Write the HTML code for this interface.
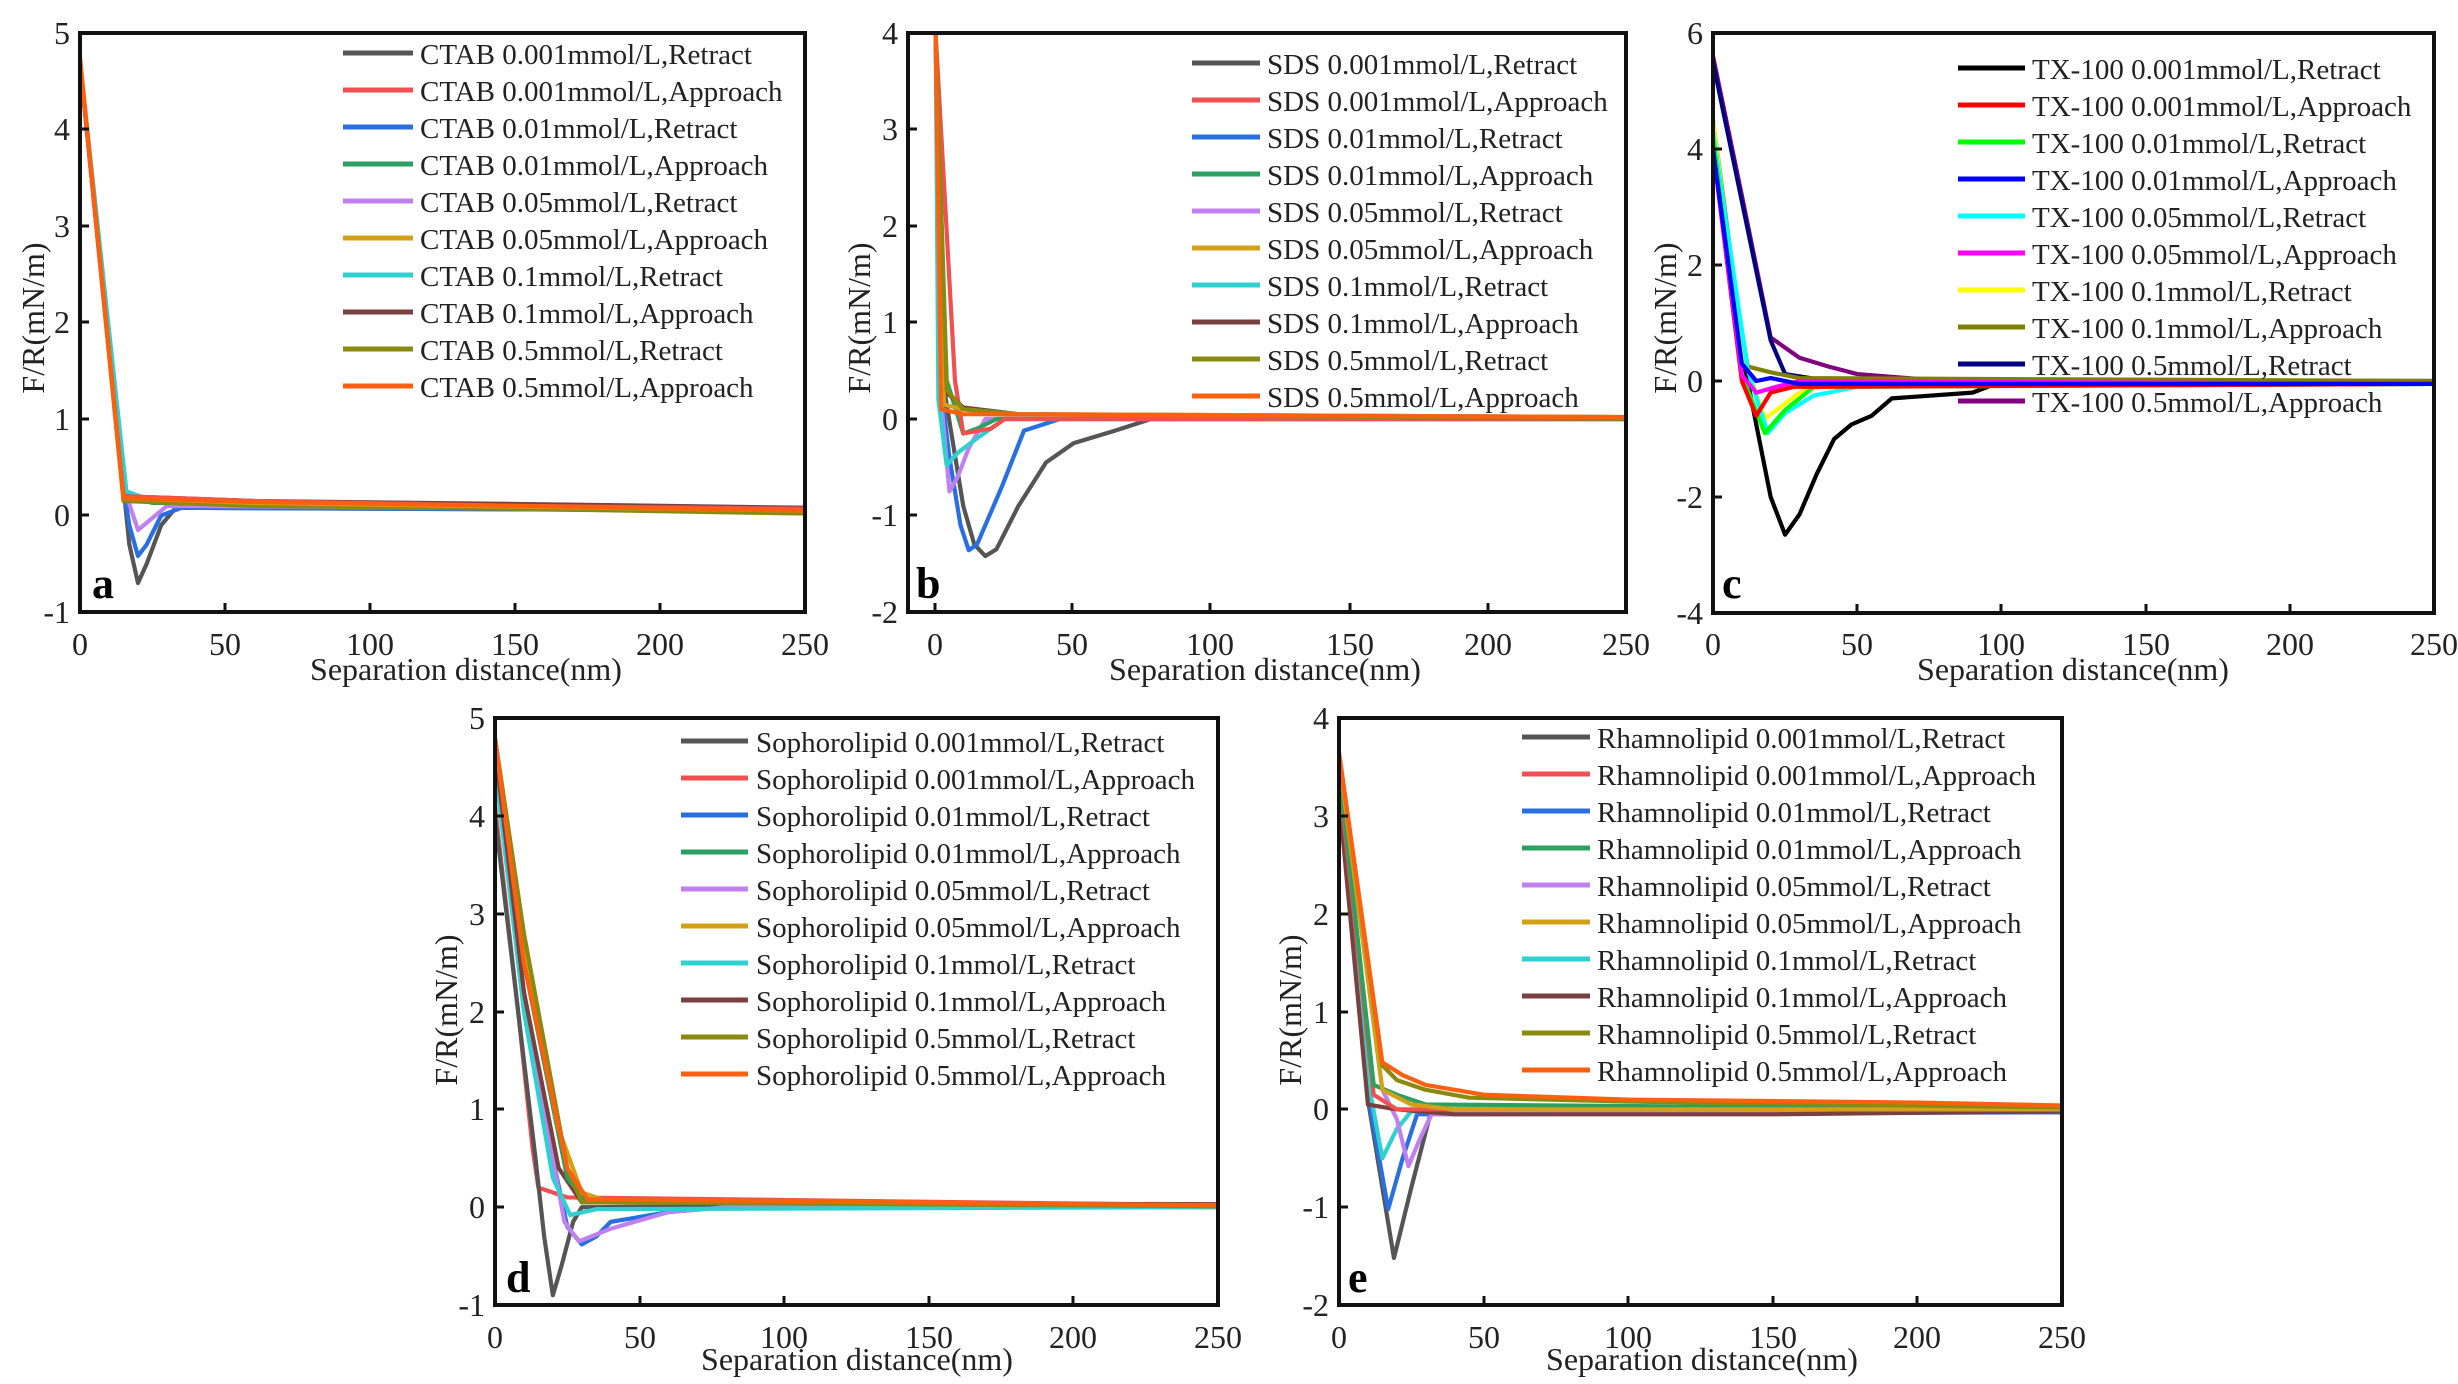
<!DOCTYPE html>
<html><head><meta charset="utf-8"><style>
html,body{margin:0;padding:0;background:#fff}
svg{display:block}
text{font-family:"Liberation Serif",serif;fill:#222}
.tk{font-size:32px}
.lg{font-size:29px}
.ti{font-size:32px}
.pl{font-size:44px;font-weight:bold;fill:#000}
.c path,.c polyline{fill:none;stroke-width:4.2;vector-effect:non-scaling-stroke;stroke-linejoin:round}
</style></head><body>
<svg width="2458" height="1384" viewBox="0 0 2458 1384" xmlns="http://www.w3.org/2000/svg">
<defs>
<clipPath id="ca"><rect x="80" y="33" width="725" height="579"/></clipPath>
<clipPath id="cb"><rect x="908" y="33" width="718" height="579"/></clipPath>
<clipPath id="cc"><rect x="1713" y="33" width="721" height="580"/></clipPath>
<clipPath id="cd"><rect x="495" y="718" width="723" height="587"/></clipPath>
<clipPath id="ce"><rect x="1339" y="718" width="723" height="587"/></clipPath>
</defs>

<!-- ===== Panel a ===== -->
<g clip-path="url(#ca)"><g class="c" transform="translate(80,612) scale(2.9,-96.5) translate(0,1)">
<polyline stroke="#555" points="0,4.7 14,0.6 17,-0.3 20,-0.7 23,-0.5 28,-0.1 33,0.08 250,0.05"/>
<polyline stroke="#2a6fe0" points="0,4.7 14,0.5 17,-0.1 20,-0.42 23,-0.3 28,0 35,0.08 250,0.05"/>
<polyline stroke="#c080f0" points="0,4.7 15,0.3 20,-0.15 24,-0.05 30,0.1 250,0.05"/>
<polyline stroke="#2ca060" points="0,4.7 15,0.22 25,0.13 100,0.1 250,0.04"/>
<polyline stroke="#30d0d0" points="0,4.7 16,0.25 25,0.15 100,0.12 250,0.05"/>
<polyline stroke="#8a8a10" points="0,4.7 15,0.15 60,0.1 150,0.07 250,0.02"/>
<polyline stroke="#7a4040" points="0,4.7 15,0.2 60,0.15 150,0.12 250,0.08"/>
<polyline stroke="#d4a017" points="0,4.7 15,0.18 60,0.13 250,0.05"/>
<polyline stroke="#f05050" points="0,4.7 15,0.2 60,0.15 150,0.1 250,0.07"/>
<polyline stroke="#ff6010" points="0,4.75 15,0.18 60,0.14 150,0.1 250,0.05"/>
</g></g>
<rect x="80" y="33" width="725" height="579" fill="none" stroke="#111" stroke-width="4"/>
<g stroke="#111" stroke-width="3">
<line x1="225" y1="612" x2="225" y2="603"/><line x1="370" y1="612" x2="370" y2="603"/><line x1="515" y1="612" x2="515" y2="603"/><line x1="660" y1="612" x2="660" y2="603"/>
<line x1="80" y1="515" x2="89" y2="515"/><line x1="80" y1="419" x2="89" y2="419"/><line x1="80" y1="322" x2="89" y2="322"/><line x1="80" y1="226" x2="89" y2="226"/><line x1="80" y1="129" x2="89" y2="129"/>
</g>
<g class="tk" text-anchor="end"><text x="70" y="623">-1</text><text x="70" y="526">0</text><text x="70" y="430">1</text><text x="70" y="333">2</text><text x="70" y="237">3</text><text x="70" y="140">4</text><text x="70" y="44">5</text></g>
<g class="tk" text-anchor="middle"><text x="80" y="655">0</text><text x="225" y="655">50</text><text x="370" y="655">100</text><text x="515" y="655">150</text><text x="660" y="655">200</text><text x="805" y="655">250</text></g>
<text class="ti" x="466" y="680" text-anchor="middle">Separation distance(nm)</text>
<text class="ti" transform="translate(44,318) rotate(-90)" text-anchor="middle">F/R(mN/m)</text>
<text class="pl" x="92" y="598">a</text>
<g stroke-width="5">
<line x1="343" y1="53" x2="413" y2="53" stroke="#555"/><line x1="343" y1="90" x2="413" y2="90" stroke="#f05050"/><line x1="343" y1="127" x2="413" y2="127" stroke="#2a6fe0"/><line x1="343" y1="164" x2="413" y2="164" stroke="#2ca060"/><line x1="343" y1="201" x2="413" y2="201" stroke="#c080f0"/><line x1="343" y1="238" x2="413" y2="238" stroke="#d4a017"/><line x1="343" y1="275" x2="413" y2="275" stroke="#30d0d0"/><line x1="343" y1="312" x2="413" y2="312" stroke="#7a4040"/><line x1="343" y1="349" x2="413" y2="349" stroke="#8a8a10"/><line x1="343" y1="386" x2="413" y2="386" stroke="#ff6010"/>
</g>
<g class="lg"><text x="420" y="64">CTAB 0.001mmol/L,Retract</text><text x="420" y="101">CTAB 0.001mmol/L,Approach</text><text x="420" y="138">CTAB 0.01mmol/L,Retract</text><text x="420" y="175">CTAB 0.01mmol/L,Approach</text><text x="420" y="212">CTAB 0.05mmol/L,Retract</text><text x="420" y="249">CTAB 0.05mmol/L,Approach</text><text x="420" y="286">CTAB 0.1mmol/L,Retract</text><text x="420" y="323">CTAB 0.1mmol/L,Approach</text><text x="420" y="360">CTAB 0.5mmol/L,Retract</text><text x="420" y="397">CTAB 0.5mmol/L,Approach</text></g>

<!-- ===== Panel b ===== -->
<g clip-path="url(#cb)"><g class="c" transform="translate(908,612) scale(2.762,-96.5) translate(10,2)">
<polyline stroke="#555" points="0,4 2,0.5 6,-0.2 10,-0.9 14,-1.3 18,-1.42 22,-1.35 30,-0.9 40,-0.45 50,-0.25 65,-0.12 78,0 250,0"/>
<polyline stroke="#2a6fe0" points="0,4 2,0.3 5,-0.4 9,-1.1 12,-1.36 15,-1.3 24,-0.7 32,-0.12 45,0 250,0"/>
<polyline stroke="#c080f0" points="0,4 2,0.2 5,-0.75 8,-0.6 12,-0.3 18,0 250,0"/>
<polyline stroke="#30d0d0" points="0,4 1,0.2 4,-0.48 8,-0.35 15,-0.2 25,0 250,0"/>
<polyline stroke="#2ca060" points="0,4 4,0.4 10,-0.15 15,-0.1 22,0 250,0"/>
<polyline stroke="#f05050" points="0,4 7,0.4 10,-0.15 20,-0.1 25,0 250,0"/>
<polyline stroke="#7a4040" points="0,4 3,0.3 10,0.12 30,0.05 250,0.02"/>
<polyline stroke="#d4a017" points="0,4 3,0.15 10,0.1 30,0.05 250,0.02"/>
<polyline stroke="#8a8a10" points="0,4 4,0.3 10,0.1 30,0.05 250,0"/>
<polyline stroke="#ff6010" points="0,4 2,0.1 10,0.05 250,0.02"/>
</g></g>
<rect x="908" y="33" width="718" height="579" fill="none" stroke="#111" stroke-width="4"/>
<g stroke="#111" stroke-width="3">
<line x1="1072" y1="612" x2="1072" y2="603"/><line x1="1210" y1="612" x2="1210" y2="603"/><line x1="1350" y1="612" x2="1350" y2="603"/><line x1="1488" y1="612" x2="1488" y2="603"/><line x1="935" y1="612" x2="935" y2="603"/>
<line x1="908" y1="515" x2="917" y2="515"/><line x1="908" y1="419" x2="917" y2="419"/><line x1="908" y1="322" x2="917" y2="322"/><line x1="908" y1="226" x2="917" y2="226"/><line x1="908" y1="129" x2="917" y2="129"/>
</g>
<g class="tk" text-anchor="end"><text x="898" y="623">-2</text><text x="898" y="526">-1</text><text x="898" y="430">0</text><text x="898" y="333">1</text><text x="898" y="237">2</text><text x="898" y="140">3</text><text x="898" y="44">4</text></g>
<g class="tk" text-anchor="middle"><text x="935" y="655">0</text><text x="1072" y="655">50</text><text x="1210" y="655">100</text><text x="1350" y="655">150</text><text x="1488" y="655">200</text><text x="1626" y="655">250</text></g>
<text class="ti" x="1265" y="680" text-anchor="middle">Separation distance(nm)</text>
<text class="ti" transform="translate(870,318) rotate(-90)" text-anchor="middle">F/R(mN/m)</text>
<text class="pl" x="916" y="598">b</text>
<g stroke-width="5">
<line x1="1192" y1="63" x2="1260" y2="63" stroke="#555"/><line x1="1192" y1="100" x2="1260" y2="100" stroke="#f05050"/><line x1="1192" y1="137" x2="1260" y2="137" stroke="#2a6fe0"/><line x1="1192" y1="174" x2="1260" y2="174" stroke="#2ca060"/><line x1="1192" y1="211" x2="1260" y2="211" stroke="#c080f0"/><line x1="1192" y1="248" x2="1260" y2="248" stroke="#d4a017"/><line x1="1192" y1="285" x2="1260" y2="285" stroke="#30d0d0"/><line x1="1192" y1="322" x2="1260" y2="322" stroke="#7a4040"/><line x1="1192" y1="359" x2="1260" y2="359" stroke="#8a8a10"/><line x1="1192" y1="396" x2="1260" y2="396" stroke="#ff6010"/>
</g>
<g class="lg"><text x="1267" y="74">SDS 0.001mmol/L,Retract</text><text x="1267" y="111">SDS 0.001mmol/L,Approach</text><text x="1267" y="148">SDS 0.01mmol/L,Retract</text><text x="1267" y="185">SDS 0.01mmol/L,Approach</text><text x="1267" y="222">SDS 0.05mmol/L,Retract</text><text x="1267" y="259">SDS 0.05mmol/L,Approach</text><text x="1267" y="296">SDS 0.1mmol/L,Retract</text><text x="1267" y="333">SDS 0.1mmol/L,Approach</text><text x="1267" y="370">SDS 0.5mmol/L,Retract</text><text x="1267" y="407">SDS 0.5mmol/L,Approach</text></g>

<!-- ===== Panel c ===== -->
<g clip-path="url(#cc)"><g class="c" transform="translate(1713,613) scale(2.884,-58) translate(0,4)">
<polyline stroke="#800080" points="0,5.6 10,3.2 20,0.75 30,0.4 40,0.25 50,0.12 80,0 250,0"/>
<polyline stroke="#000080" points="0,5.5 10,3.1 20,0.7 25,0.12 40,0 100,-0.05 250,-0.05"/>
<polyline stroke="#808000" points="0,4.5 8,1.5 12,0.25 20,0.15 30,0.05 250,0"/>
<polyline stroke="#000" points="0,4 8,1 12,0 16,-1 20,-2 25,-2.65 30,-2.3 36,-1.6 42,-1 48,-0.75 55,-0.6 62,-0.3 90,-0.2 98,-0.05 250,-0.05"/>
<polyline stroke="#ffff00" points="0,4.5 10,0.5 18,-0.65 22,-0.5 30,-0.2 40,-0.05 250,-0.05"/>
<polyline stroke="#00ffff" points="0,4.3 12,0.2 19,-0.9 25,-0.55 35,-0.25 50,-0.1 250,-0.05"/>
<polyline stroke="#00ff00" points="0,4.2 10,0.1 14,-0.4 18,-0.9 25,-0.5 35,-0.1 250,-0.05"/>
<polyline stroke="#ff0000" points="0,4 10,0 15,-0.6 20,-0.2 28,-0.1 35,-0.1 250,-0.05"/>
<polyline stroke="#ff00ff" points="0,4 10,0.1 15,-0.2 22,-0.1 30,0 250,-0.05"/>
<polyline stroke="#0000ff" points="0,4 10,0.3 15,0 20,0.05 30,-0.05 250,-0.05"/>
</g></g>
<rect x="1713" y="33" width="721" height="580" fill="none" stroke="#111" stroke-width="4"/>
<g stroke="#111" stroke-width="3">
<line x1="1857" y1="613" x2="1857" y2="604"/><line x1="2001" y1="613" x2="2001" y2="604"/><line x1="2146" y1="613" x2="2146" y2="604"/><line x1="2290" y1="613" x2="2290" y2="604"/>
<line x1="1713" y1="497" x2="1722" y2="497"/><line x1="1713" y1="381" x2="1722" y2="381"/><line x1="1713" y1="265" x2="1722" y2="265"/><line x1="1713" y1="149" x2="1722" y2="149"/>
</g>
<g class="tk" text-anchor="end"><text x="1703" y="624">-4</text><text x="1703" y="508">-2</text><text x="1703" y="392">0</text><text x="1703" y="276">2</text><text x="1703" y="160">4</text><text x="1703" y="44">6</text></g>
<g class="tk" text-anchor="middle"><text x="1713" y="655">0</text><text x="1857" y="655">50</text><text x="2001" y="655">100</text><text x="2146" y="655">150</text><text x="2290" y="655">200</text><text x="2434" y="655">250</text></g>
<text class="ti" x="2073" y="680" text-anchor="middle">Separation distance(nm)</text>
<text class="ti" transform="translate(1676,318) rotate(-90)" text-anchor="middle">F/R(mN/m)</text>
<text class="pl" x="1722" y="598">c</text>
<g stroke-width="5">
<line x1="1958" y1="68" x2="2025" y2="68" stroke="#000"/><line x1="1958" y1="105" x2="2025" y2="105" stroke="#ff0000"/><line x1="1958" y1="142" x2="2025" y2="142" stroke="#00ff00"/><line x1="1958" y1="179" x2="2025" y2="179" stroke="#0000ff"/><line x1="1958" y1="216" x2="2025" y2="216" stroke="#00ffff"/><line x1="1958" y1="253" x2="2025" y2="253" stroke="#ff00ff"/><line x1="1958" y1="290" x2="2025" y2="290" stroke="#ffff00"/><line x1="1958" y1="327" x2="2025" y2="327" stroke="#808000"/><line x1="1958" y1="364" x2="2025" y2="364" stroke="#000080"/><line x1="1958" y1="401" x2="2025" y2="401" stroke="#800080"/>
</g>
<g class="lg"><text x="2032" y="79">TX-100 0.001mmol/L,Retract</text><text x="2032" y="116">TX-100 0.001mmol/L,Approach</text><text x="2032" y="153">TX-100 0.01mmol/L,Retract</text><text x="2032" y="190">TX-100 0.01mmol/L,Approach</text><text x="2032" y="227">TX-100 0.05mmol/L,Retract</text><text x="2032" y="264">TX-100 0.05mmol/L,Approach</text><text x="2032" y="301">TX-100 0.1mmol/L,Retract</text><text x="2032" y="338">TX-100 0.1mmol/L,Approach</text><text x="2032" y="375">TX-100 0.5mmol/L,Retract</text><text x="2032" y="412">TX-100 0.5mmol/L,Approach</text></g>

<!-- ===== Panel d ===== -->
<g clip-path="url(#cd)"><g class="c" transform="translate(495,1305) scale(2.892,-97.8) translate(0,1)">
<polyline stroke="#f05050" points="0,4.1 8,2 13,0.6 15,0.2 25,0.1 250,0.02"/>
<polyline stroke="#555" points="0,4 8,2 14,0.5 17,-0.3 20,-0.9 23,-0.6 27,-0.15 30,0 250,0.02"/>
<polyline stroke="#2a6fe0" points="0,4.5 10,2.2 20,0.5 25,-0.2 30,-0.38 35,-0.3 40,-0.15 50,-0.1 60,-0.05 80,0 250,0"/>
<polyline stroke="#c080f0" points="0,4.5 10,2.2 20,0.5 24,-0.15 29,-0.35 40,-0.22 60,-0.05 80,0 250,0"/>
<polyline stroke="#30d0d0" points="0,4.5 10,2 20,0.3 26,-0.08 35,-0.02 250,0"/>
<polyline stroke="#7a4040" points="0,4.7 10,2.2 22,0.4 30,0.05 250,0.03"/>
<polyline stroke="#2ca060" points="0,4.8 10,2.5 25,0.3 32,0.05 250,0.02"/>
<polyline stroke="#d4a017" points="0,4.8 10,2.6 22,0.8 30,0.15 40,0.05 250,0.02"/>
<polyline stroke="#8a8a10" points="0,4.8 10,2.8 25,0.4 30,0.05 250,0.01"/>
<polyline stroke="#ff6010" points="0,4.8 10,2.5 25,0.4 32,0.08 250,0.02"/>
</g></g>
<rect x="495" y="718" width="723" height="587" fill="none" stroke="#111" stroke-width="4"/>
<g stroke="#111" stroke-width="3">
<line x1="640" y1="1305" x2="640" y2="1296"/><line x1="784" y1="1305" x2="784" y2="1296"/><line x1="929" y1="1305" x2="929" y2="1296"/><line x1="1073" y1="1305" x2="1073" y2="1296"/>
<line x1="495" y1="1207" x2="504" y2="1207"/><line x1="495" y1="1109" x2="504" y2="1109"/><line x1="495" y1="1012" x2="504" y2="1012"/><line x1="495" y1="914" x2="504" y2="914"/><line x1="495" y1="816" x2="504" y2="816"/>
</g>
<g class="tk" text-anchor="end"><text x="485" y="1316">-1</text><text x="485" y="1218">0</text><text x="485" y="1120">1</text><text x="485" y="1023">2</text><text x="485" y="925">3</text><text x="485" y="827">4</text><text x="485" y="729">5</text></g>
<g class="tk" text-anchor="middle"><text x="495" y="1348">0</text><text x="640" y="1348">50</text><text x="784" y="1348">100</text><text x="929" y="1348">150</text><text x="1073" y="1348">200</text><text x="1218" y="1348">250</text></g>
<text class="ti" x="857" y="1370" text-anchor="middle">Separation distance(nm)</text>
<text class="ti" transform="translate(457,1010) rotate(-90)" text-anchor="middle">F/R(mN/m)</text>
<text class="pl" x="506" y="1292">d</text>
<g stroke-width="5">
<line x1="681" y1="741" x2="748" y2="741" stroke="#555"/><line x1="681" y1="778" x2="748" y2="778" stroke="#f05050"/><line x1="681" y1="815" x2="748" y2="815" stroke="#2a6fe0"/><line x1="681" y1="852" x2="748" y2="852" stroke="#2ca060"/><line x1="681" y1="889" x2="748" y2="889" stroke="#c080f0"/><line x1="681" y1="926" x2="748" y2="926" stroke="#d4a017"/><line x1="681" y1="963" x2="748" y2="963" stroke="#30d0d0"/><line x1="681" y1="1000" x2="748" y2="1000" stroke="#7a4040"/><line x1="681" y1="1037" x2="748" y2="1037" stroke="#8a8a10"/><line x1="681" y1="1074" x2="748" y2="1074" stroke="#ff6010"/>
</g>
<g class="lg"><text x="756" y="752">Sophorolipid 0.001mmol/L,Retract</text><text x="756" y="789">Sophorolipid 0.001mmol/L,Approach</text><text x="756" y="826">Sophorolipid 0.01mmol/L,Retract</text><text x="756" y="863">Sophorolipid 0.01mmol/L,Approach</text><text x="756" y="900">Sophorolipid 0.05mmol/L,Retract</text><text x="756" y="937">Sophorolipid 0.05mmol/L,Approach</text><text x="756" y="974">Sophorolipid 0.1mmol/L,Retract</text><text x="756" y="1011">Sophorolipid 0.1mmol/L,Approach</text><text x="756" y="1048">Sophorolipid 0.5mmol/L,Retract</text><text x="756" y="1085">Sophorolipid 0.5mmol/L,Approach</text></g>

<!-- ===== Panel e ===== -->
<g clip-path="url(#ce)"><g class="c" transform="translate(1339,1305) scale(2.892,-97.8) translate(0,2)">
<polyline stroke="#555" points="0,3.3 10,0.1 15,-0.8 19,-1.52 25,-0.8 32,0 40,-0.03 250,-0.03"/>
<polyline stroke="#2a6fe0" points="0,3.4 10,0.15 17,-1.02 22,-0.5 27,-0.05 250,-0.03"/>
<polyline stroke="#30d0d0" points="0,3.5 10,0.3 15,-0.5 20,-0.2 25,-0.02 250,0"/>
<polyline stroke="#c080f0" points="0,3.6 15,0.2 20,-0.1 24,-0.58 28,-0.3 32,-0.05 250,-0.02"/>
<polyline stroke="#7a4040" points="0,3.2 10,0.05 20,0 40,-0.05 150,-0.05 250,-0.02"/>
<polyline stroke="#f05050" points="0,3.4 12,0.15 20,0 250,0"/>
<polyline stroke="#2ca060" points="0,3.5 12,0.25 20,0.15 30,0.05 250,0"/>
<polyline stroke="#d4a017" points="0,3.6 15,0.2 25,0.05 40,0 250,0"/>
<polyline stroke="#8a8a10" points="0,3.65 15,0.45 20,0.3 30,0.2 45,0.12 100,0.08 200,0.04 250,0.02"/>
<polyline stroke="#ff6010" points="0,3.65 15,0.48 22,0.35 30,0.25 50,0.15 100,0.1 200,0.07 250,0.04"/>
</g></g>
<rect x="1339" y="718" width="723" height="587" fill="none" stroke="#111" stroke-width="4"/>
<g stroke="#111" stroke-width="3">
<line x1="1484" y1="1305" x2="1484" y2="1296"/><line x1="1628" y1="1305" x2="1628" y2="1296"/><line x1="1773" y1="1305" x2="1773" y2="1296"/><line x1="1917" y1="1305" x2="1917" y2="1296"/>
<line x1="1339" y1="1207" x2="1348" y2="1207"/><line x1="1339" y1="1109" x2="1348" y2="1109"/><line x1="1339" y1="1012" x2="1348" y2="1012"/><line x1="1339" y1="914" x2="1348" y2="914"/><line x1="1339" y1="816" x2="1348" y2="816"/>
</g>
<g class="tk" text-anchor="end"><text x="1329" y="1316">-2</text><text x="1329" y="1218">-1</text><text x="1329" y="1120">0</text><text x="1329" y="1023">1</text><text x="1329" y="925">2</text><text x="1329" y="827">3</text><text x="1329" y="729">4</text></g>
<g class="tk" text-anchor="middle"><text x="1339" y="1348">0</text><text x="1484" y="1348">50</text><text x="1628" y="1348">100</text><text x="1773" y="1348">150</text><text x="1917" y="1348">200</text><text x="2062" y="1348">250</text></g>
<text class="ti" x="1702" y="1370" text-anchor="middle">Separation distance(nm)</text>
<text class="ti" transform="translate(1301,1010) rotate(-90)" text-anchor="middle">F/R(mN/m)</text>
<text class="pl" x="1348" y="1292">e</text>
<g stroke-width="5">
<line x1="1522" y1="737" x2="1590" y2="737" stroke="#555"/><line x1="1522" y1="774" x2="1590" y2="774" stroke="#f05050"/><line x1="1522" y1="811" x2="1590" y2="811" stroke="#2a6fe0"/><line x1="1522" y1="848" x2="1590" y2="848" stroke="#2ca060"/><line x1="1522" y1="885" x2="1590" y2="885" stroke="#c080f0"/><line x1="1522" y1="922" x2="1590" y2="922" stroke="#d4a017"/><line x1="1522" y1="959" x2="1590" y2="959" stroke="#30d0d0"/><line x1="1522" y1="996" x2="1590" y2="996" stroke="#7a4040"/><line x1="1522" y1="1033" x2="1590" y2="1033" stroke="#8a8a10"/><line x1="1522" y1="1070" x2="1590" y2="1070" stroke="#ff6010"/>
</g>
<g class="lg"><text x="1597" y="748">Rhamnolipid 0.001mmol/L,Retract</text><text x="1597" y="785">Rhamnolipid 0.001mmol/L,Approach</text><text x="1597" y="822">Rhamnolipid 0.01mmol/L,Retract</text><text x="1597" y="859">Rhamnolipid 0.01mmol/L,Approach</text><text x="1597" y="896">Rhamnolipid 0.05mmol/L,Retract</text><text x="1597" y="933">Rhamnolipid 0.05mmol/L,Approach</text><text x="1597" y="970">Rhamnolipid 0.1mmol/L,Retract</text><text x="1597" y="1007">Rhamnolipid 0.1mmol/L,Approach</text><text x="1597" y="1044">Rhamnolipid 0.5mmol/L,Retract</text><text x="1597" y="1081">Rhamnolipid 0.5mmol/L,Approach</text></g>
</svg>
</body></html>
